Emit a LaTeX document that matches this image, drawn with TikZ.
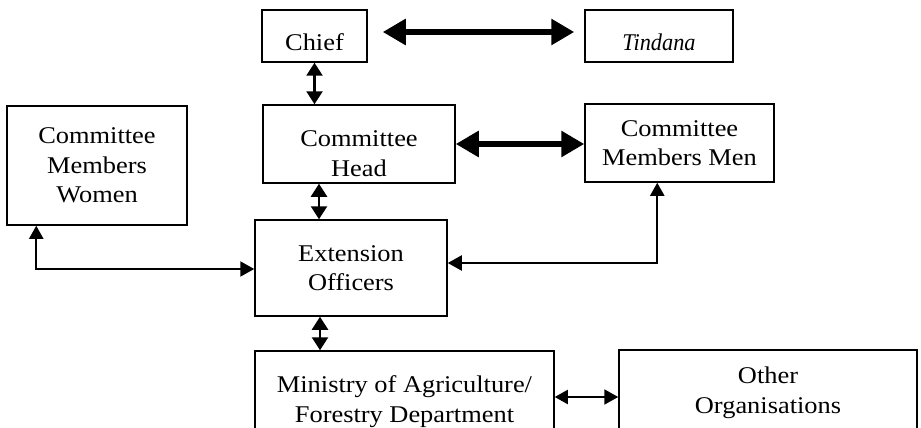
\documentclass[tikz,border=0pt]{standalone}
\usepackage{fontspec}
\setmainfont{Liberation Serif}[FakeStretch=1.1]
\newfontfamily\tindfont{Liberation Serif}[FakeStretch=0.93]
\usetikzlibrary{arrows.meta,calc}
\tikzset{
  box/.style={draw, line width=1.5pt, inner sep=0pt, align=center, font=\fontsize{24}{29.5}\selectfont},
  txt/.style={inner sep=0pt, align=center, font=\fontsize{24}{30}\selectfont},
  thick arrow/.style={line width=6.5pt, {Triangle[length=23pt,width=25pt]}-{Triangle[length=23pt,width=25pt]}},
  mid arrow/.style={line width=2.4pt, {Triangle[length=13pt,width=16pt]}-{Triangle[length=13pt,width=16pt]}},
  thin arrow/.style={line width=2pt, {Triangle[length=13pt,width=14pt]}-{Triangle[length=14pt,width=15pt]}},
}
\begin{document}
\begin{tikzpicture}[x=1pt,y=-1pt]
\useasboundingbox (0,0) rectangle (921,428);
\clip (0,0) rectangle (921,428);
\fill[white] (0,0) rectangle (921,428);
% boxes
\node[box, minimum width=105pt, minimum height=52pt] (chief) at (314.5,36) {};
\node[txt] (chieft) at (314.5,42) {Chief};
\node[box, minimum width=148pt, minimum height=52pt] (tindana) at (659,36) {};
\node[txt, font=\fontsize{24}{28}\selectfont\tindfont\itshape] (tindanat) at (659,42) {Tindana};
\node[box, minimum width=192pt, minimum height=78pt] (head) at (359,144) {};
\node[txt] (headt) at (359,154) {Committee\\Head};
\node[box, minimum width=180pt, minimum height=119pt] (women) at (97,165.5) {Committee\\Members\\Women};
\node[box, minimum width=189pt, minimum height=78pt] (men) at (679.5,143) {Committee\\Members Men};
\node[box, minimum width=192pt, minimum height=96pt] (ext) at (351,268) {Extension\\Officers};
\node[box, minimum width=299pt, minimum height=89pt] (ministry) at (404.5,395.5) {};
\node[txt] (ministryt) at (404.5,402) {Ministry of Agriculture/\\Forestry Department};
\node[box, minimum width=298pt, minimum height=90pt] (other) at (768,395) {};
\node[txt] (othert) at (768,393) {Other\\Organisations};
% connectors
\draw[thick arrow, shorten <=15pt, shorten >=10pt] ([yshift=4pt]chief.east) -- ([yshift=4pt]tindana.west);
\draw[mid arrow] (chief.south) -- (chief.south |- head.north);
\draw[thick arrow] (head.east) -- (head.east -| men.west);
\coordinate (he) at ($(head.south)+(-40,0)$);
\draw[mid arrow] (he) -- (he |- ext.north);
\coordinate (em) at ($(ext.south)+(-31,0)$);
\draw[mid arrow] (em) -- (em |- ministry.north);
\coordinate (wb) at ($(women.south west)+(30,0)$);
\draw[thin arrow] (wb) |- ([yshift=-1pt]ext.west);
\coordinate (mb) at ($(men.south west)+(73,0)$);
\draw[thin arrow] (mb) |- ([yshift=5pt]ext.east);
\coordinate (mo) at ($(ministry.east)+(0,1.5)$);
\draw[thin arrow] (mo) -- (mo -| other.west);
\end{tikzpicture}
\end{document}
